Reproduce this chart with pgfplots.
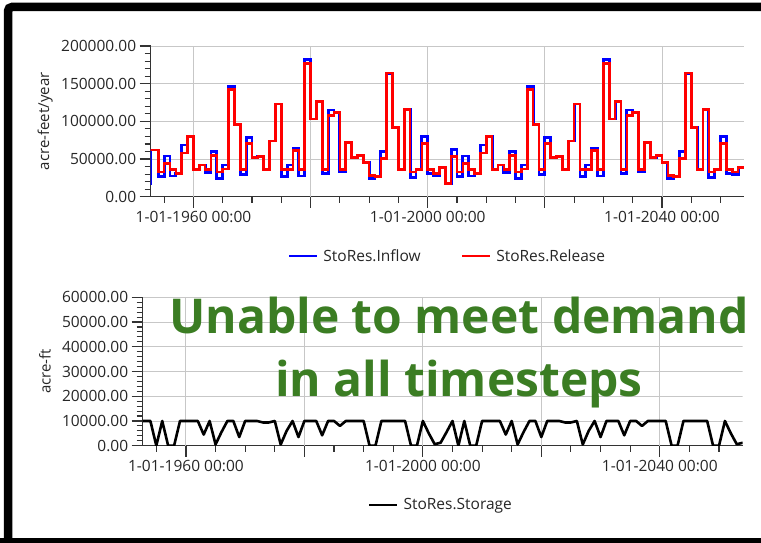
\documentclass[border=0pt]{standalone}
\usepackage{pgfplots}
\pgfplotsset{compat=1.18}
\usepackage{pgfplotstable}
\usepackage{fontspec}
\setmainfont{Open Sans}
\definecolor{msgreen}{HTML}{3B7D23}
\definecolor{lbl}{HTML}{262626}

% year  inflow  release (ac-ft/yr)
\pgfplotstableread{
year inflow release
1952.5 18000 62000
1952.7 62000 62000
1954 27000 33000
1955 54000 44000
1956 27500 36000
1957 31000 31000
1958 68500 58000
1959 80000 80000
1960 36000 36000
1961 42000 42000
1962 32000 36000
1963 60000 55000
1964 24000 33000
1965 42000 37000
1966 146000 142000
1967 96000 96000
1968 29000 36000
1969 79000 71000
1970 52000 52000
1971 53000 53000
1972 36000 36000
1973 74000 74000
1974 123000 123000
1975 27000 36000
1976 42000 36000
1977 64000 61000
1978 27500 36000
1979 182000 177000
1980 103000 103000
1981 126000 126000
1982 31000 36000
1983 115000 108000
1984 112000 112000
1985 33000 36000
1986 72000 72000
1987 52000 52000
1988 55000 55000
1989 45000 45000
1990 24000 28000
1991 27000 27000
1992 60000 51000
1993 164000 164000
1994 92000 92000
1995 36000 36000
1996 116000 116000
1997 25000 33000
1998 36000 36000
1999 80000 71000
2000 31000 36000
2001 28000 31000
2002 39000 39000
2003 17700 17700
2004 63000 53000
2005 27000 33000
2006 54000 44000
2007 27500 36000
2008 31000 31000
2009 68500 58000
2010 80000 80000
2011 36000 36000
2012 42000 42000
2013 32000 36000
2014 60000 55000
2015 24000 33000
2016 42000 37000
2017 146000 142000
2018 96000 96000
2019 29000 36000
2020 79000 71000
2021 52000 52000
2022 53000 53000
2023 36000 36000
2024 74000 74000
2025 123000 123000
2026 27000 36000
2027 42000 36000
2028 64000 61000
2029 27500 36000
2030 182000 177000
2031 103000 103000
2032 126000 126000
2033 31000 36000
2034 115000 108000
2035 112000 112000
2036 33000 36000
2037 72000 72000
2038 52000 52000
2039 55000 55000
2040 45000 45000
2041 24000 28000
2042 27000 27000
2043 60000 51000
2044 164000 164000
2045 92000 92000
2046 36000 36000
2047 116000 116000
2048 25000 33000
2049 36000 36000
2050 80000 71000
2051 31000 36000
2052 29000 33000
2053 39000 39000
2054 39000 39000
}\flows

% end-of-step storage (ac-ft)
\pgfplotstableread{
year storage
1952.7 10000
1953 10000
1954 10000
1955 0
1956 10000
1957 0
1958 0
1959 10000
1960 10000
1961 10000
1962 10000
1963 4500
1964 10000
1965 500
1966 5500
1967 10000
1968 10000
1969 3500
1970 10000
1971 10000
1972 10000
1973 9400
1974 9400
1975 10000
1976 500
1977 6000
1978 10000
1979 3500
1980 10000
1981 10000
1982 10000
1983 4200
1984 10000
1985 10000
1986 8000
1987 10000
1988 10000
1989 10000
1990 10000
1991 0
1992 0
1993 10000
1994 10000
1995 10000
1996 10000
1997 10000
1998 0
1999 0
2000 10000
2001 5000
2002 600
2003 1200
2004 5500
2005 10000
2006 0
2007 10000
2008 0
2009 0
2010 10000
2011 10000
2012 10000
2013 10000
2014 4500
2015 10000
2016 500
2017 5500
2018 10000
2019 10000
2020 3500
2021 10000
2022 10000
2023 10000
2024 9400
2025 9400
2026 10000
2027 500
2028 6000
2029 10000
2030 3500
2031 10000
2032 10000
2033 10000
2034 4200
2035 10000
2036 10000
2037 8000
2038 10000
2039 10000
2040 10000
2041 10000
2042 0
2043 0
2044 10000
2045 10000
2046 10000
2047 10000
2048 10000
2049 0
2050 0
2051 10000
2052 5000
2053 600
2054 1200
}\storage

\tikzset{gridline/.style={black!22, line width=0.9pt}}

\pgfplotsset{
  ribbon/.style={
    scale only axis,
    xmin=1952.7, xmax=2054,
    enlargelimits=false,
    scaled y ticks=false,
    axis x line*=bottom, axis y line*=left,
    axis line style={-, black!80, line width=1.3pt},
    tick align=outside,
    major tick length=11pt, minor tick length=6pt,
    major tick style={black!80, line width=1.2pt},
    minor tick style={black!80, line width=1.1pt},
    xtick={1960,1980,2000,2020,2040},
    xticklabels={1-01-1960 00:00,,1-01-2000 00:00,,1-01-2040 00:00},
    minor xtick={1955,1965,1970,1975,1985,1990,1995,2005,2010,2015,2025,2030,2035,2045,2050},
    minor y tick num=4,
    tick label style={font=\fontsize{15.5}{18}\selectfont, text=lbl},
    ylabel style={font=\fontsize{15}{18}\selectfont, text=lbl, anchor=center},
    legend style={draw=none, fill=none, font=\fontsize{15.5}{18}\selectfont,
      text=lbl, legend columns=-1, anchor=center,
      /tikz/every odd column/.append style={column sep=3pt},
      /tikz/every even column/.append style={column sep=38pt}},
    legend image code/.code={\draw[#1] (0pt,0pt) -- (28pt,0pt);},
  },
}

\begin{document}
\begin{tikzpicture}[x=1pt,y=1pt]
\useasboundingbox (0,0) rectangle (761,542);

\begin{axis}[ribbon,
  at={(150.7pt,345.3pt)}, anchor=south west,
  width=593.3pt, height=150.7pt,
  ymin=0, ymax=200000,
  ytick={0,50000,100000,150000,200000},
  yticklabels={0.00,50000.00,100000.00,150000.00,200000.00},
  ylabel={acre-feet/year},
  ylabel style={at={(axis description cs:-0.178,0.5)}},
  legend style={at={(0.50,-0.393)}},
]
\pgfplotsinvokeforeach{50000,100000,150000,200000}{
  \draw[gridline] (axis cs:1952.7,#1) -- (axis cs:2054,#1);}
\pgfplotsinvokeforeach{1960,1980,2000,2020,2040}{
  \draw[gridline] (axis cs:#1,0) -- (axis cs:#1,200000);}
\addplot[const plot, blue, line width=2.8pt] table[x=year, y=inflow] {\flows};
\addlegendentry{StoRes.Inflow}
\addplot[const plot, red, line width=2.6pt] table[x=year, y=release] {\flows};
\addlegendentry{StoRes.Release}
\end{axis}

\begin{axis}[ribbon,
  at={(142.7pt,96.3pt)}, anchor=south west,
  width=600pt, height=148.4pt,
  ymin=0, ymax=60000,
  ytick={0,10000,...,60000},
  yticklabels={0.00,10000.00,20000.00,30000.00,40000.00,50000.00,60000.00},
  ylabel={acre-ft},
  ylabel style={at={(axis description cs:-0.163,0.5)}},
  legend style={at={(0.497,-0.40)}},
]
\pgfplotsinvokeforeach{10000,20000,30000,40000,50000,60000}{
  \draw[gridline] (axis cs:1952.7,#1) -- (axis cs:2054,#1);}
\pgfplotsinvokeforeach{1960,1980,2000,2020,2040}{
  \draw[gridline] (axis cs:#1,0) -- (axis cs:#1,60000);}
\addplot[black, line width=2.6pt, line join=round] table[x=year, y=storage] {\storage};
\addlegendentry{StoRes.Storage}
\end{axis}

\node[anchor=base, text=msgreen, font=\fontsize{48}{50}\bfseries] at (459,208.7) {Unable to meet demand};
\node[anchor=base, text=msgreen, font=\fontsize{48}{50}\bfseries] at (459,145.3) {in all timesteps};

\begin{scope}
\clip (0,0) rectangle (761,542);
\draw[line width=8.5pt, rounded corners=4pt] (8,-10) -- (8,535) -- (780,535);
\draw[line width=8pt] (-5,0) -- (780,0);
\end{scope}
\end{tikzpicture}
\end{document}
